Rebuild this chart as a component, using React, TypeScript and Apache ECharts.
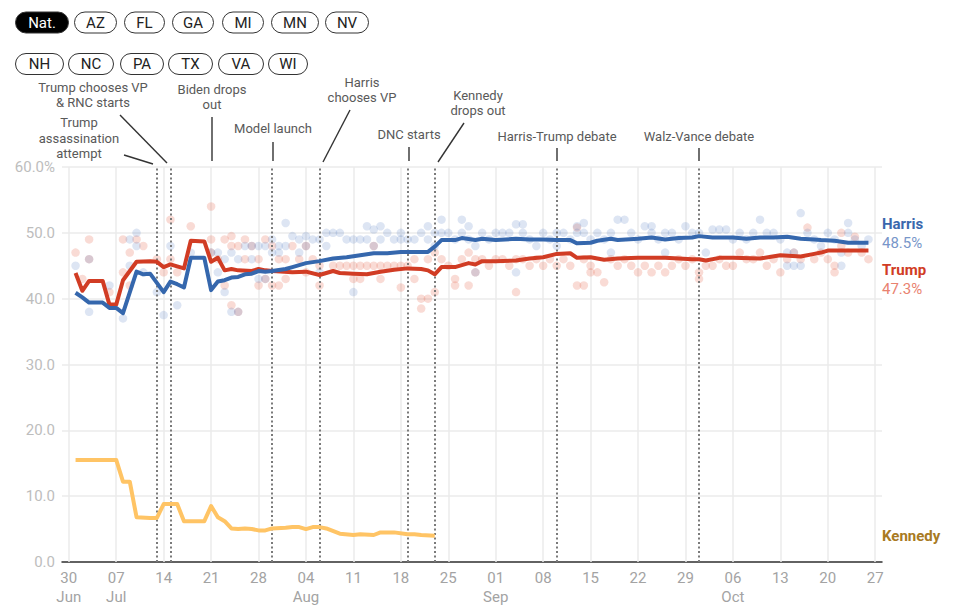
import React, { useEffect, useRef } from "react";
import * as echarts from "echarts";

// Day index 0 = 30 Jun 2024
const START_UTC = Date.UTC(2024, 5, 30);
const MONTHS = ["Jan", "Feb", "Mar", "Apr", "May", "Jun", "Jul", "Aug", "Sep", "Oct", "Nov", "Dec"];

const tickDays = [0, 7, 14, 21, 28, 35, 42, 49, 56, 63, 70, 77, 84, 91, 98, 105, 112, 119];
const yTicks = [0, 10, 20, 30, 40, 50, 60];

const stateButtonsRow1 = ["Nat.", "AZ", "FL", "GA", "MI", "MN", "NV"];
const stateButtonsRow2 = ["NH", "NC", "PA", "TX", "VA", "WI"];

// [day, value]
const harrisTrend: number[][] = [
  [1, 40.9], [2, 40.2], [3, 39.4], [5, 39.4], [6, 38.6], [7, 38.6], [8, 37.8], [10, 44.1], [11, 43.7], [12, 43.8],
  [14, 41.0], [15, 42.6], [16, 42.2], [17, 41.7], [18, 46.2], [20, 46.2], [21, 41.3], [22, 42.6], [23, 42.8], [24, 43.2],
  [25, 43.3], [26, 43.7], [27, 43.8], [28, 44.2], [29, 44.1], [30, 44.2], [32, 44.5], [33, 44.8], [35, 45.4], [37, 45.7],
  [39, 46.1], [41, 46.3], [43, 46.6], [45, 46.9], [47, 46.9], [49, 47.1], [51, 47.1], [53, 47.1], [54, 47.9], [55, 48.9],
  [57, 48.9], [58, 49.2], [60, 48.9], [61, 49.1], [63, 48.9], [66, 49.1], [68, 49.0], [70, 49.0], [72, 48.9], [74, 48.9],
  [75, 48.4], [77, 48.5], [78, 48.8], [80, 49.1], [81, 48.9], [84, 49.1], [86, 49.3], [88, 49.0], [90, 49.2], [92, 49.3],
  [93, 49.5], [95, 49.3], [98, 49.3], [100, 49.1], [102, 49.3], [104, 49.3], [106, 49.4], [108, 49.1], [110, 49.0],
  [111, 48.9], [113, 48.8], [115, 48.5], [118, 48.5],
];

const trumpTrend: number[][] = [
  [1, 43.9], [2, 41.2], [3, 42.7], [5, 42.7], [6, 39.1], [7, 39.1], [8, 42.8], [10, 45.6], [12, 45.7], [13, 45.6],
  [14, 44.8], [15, 45.2], [16, 44.9], [17, 44.6], [18, 48.8], [20, 48.7], [21, 45.6], [22, 46.2], [23, 44.3], [24, 44.5],
  [25, 44.3], [27, 44.2], [28, 44.5], [29, 44.3], [30, 44.2], [33, 44.0], [35, 44.1], [37, 43.6], [39, 44.2], [40, 43.9],
  [42, 43.8], [44, 43.7], [46, 44.1], [48, 44.4], [50, 44.6], [52, 44.5], [53, 44.3], [54, 43.7], [55, 44.8], [57, 44.8],
  [59, 45.4], [60, 45.2], [61, 45.7], [63, 45.7], [66, 45.8], [68, 46.1], [70, 46.3], [72, 46.8], [74, 46.9], [75, 46.2],
  [77, 46.3], [79, 45.9], [81, 46.1], [84, 46.2], [88, 46.2], [90, 46.1], [92, 46.0], [93, 46.0], [94, 45.8], [96, 46.2],
  [98, 46.2], [102, 46.1], [105, 46.6], [108, 46.4], [110, 46.8], [111, 47.0], [112, 47.3], [116, 47.3], [118, 47.3],
];

const kennedyTrend: number[][] = [
  [1, 15.5], [7, 15.5], [8, 12.2], [9, 12.2], [10, 6.8], [12, 6.7], [13, 6.7], [14, 8.8], [16, 8.8], [17, 6.2],
  [20, 6.2], [21, 8.5], [22, 6.8], [23, 6.2], [24, 5.1], [25, 5.0], [26, 5.1], [27, 5.0], [28, 4.8], [29, 4.8],
  [30, 5.1], [32, 5.2], [33, 5.3], [34, 5.3], [35, 5.0], [36, 5.3], [37, 5.3], [38, 5.1], [40, 4.3], [42, 4.1],
  [43, 4.2], [45, 4.1], [46, 4.5], [48, 4.5], [50, 4.2], [51, 4.2], [52, 4.1], [54, 4.0],
];

const harrisPolls: number[][] = [
  [1, 45], [3, 46], [3, 38], [6, 42], [8, 37], [9, 49], [9, 45], [10, 50], [10, 48], [11, 44], [13, 41], [14, 37.5],
  [15, 48], [16, 39], [18, 47], [21, 47], [22, 47], [22, 44], [23, 46], [23, 41], [24, 47], [24, 38], [25, 38], [25, 46],
  [26, 48], [27, 48], [27, 46], [28, 48], [28, 43], [29, 48], [29, 43], [30, 49], [30, 47], [31, 47], [31, 48], [32, 51.5],
  [32, 48], [33, 49.5], [34, 49], [34, 47], [35, 49.5], [35, 48], [36, 49], [37, 49], [37, 44], [38, 50], [38, 48],
  [39, 50], [40, 50], [41, 49], [42, 49], [42, 41], [43, 49], [44, 49], [44, 51], [45, 50.5], [45, 48], [46, 51], [46, 49],
  [47, 50], [48, 49], [49, 49], [49, 50], [50, 49], [51, 49], [52, 50], [53, 51], [53, 49], [54, 50], [54, 48], [55, 52],
  [55, 50], [56, 50], [57, 49], [58, 52], [58, 50], [59, 51], [59, 49], [60, 44], [60, 48], [61, 50], [62, 49], [63, 50],
  [64, 50], [65, 50], [66, 51.3], [66, 44], [67, 51.3], [67, 50], [68, 49], [69, 48], [70, 50], [71, 49], [72, 50], [72, 48],
  [73, 50], [74, 49], [75, 51], [75, 50], [76, 51.5], [76, 50], [77, 49], [78, 50], [79, 49], [80, 47], [80, 50], [81, 52],
  [82, 52], [83, 50], [84, 49], [85, 51], [86, 51], [86, 50], [87, 49], [88, 47], [88, 50], [89, 50], [90, 49], [91, 51],
  [92, 50], [93, 50], [94, 47], [95, 50.5], [96, 50.5], [97, 50.5], [98, 49], [99, 50], [100, 49], [101, 50], [102, 52],
  [103, 50], [104, 50], [105, 49], [106, 45], [106, 47], [107, 45], [107, 47], [108, 53], [108, 45], [109, 50], [110, 49],
  [111, 48], [112, 50], [113, 49], [114, 47], [114, 45], [115, 51.5], [115, 50], [116, 49], [117, 48], [118, 49],
];

const trumpPolls: number[][] = [
  [1, 47], [2, 43], [3, 49], [3, 46], [6, 41], [8, 49], [8, 44], [9, 47], [9, 42], [10, 49], [11, 48], [13, 46], [14, 44],
  [15, 52], [15, 46], [16, 44], [18, 51], [21, 54], [21, 49], [21, 47], [22, 46], [23, 49], [23, 42], [24, 49.5], [24, 48],
  [24, 39], [25, 48], [25, 38], [26, 49], [26, 46], [27, 48], [28, 46], [28, 42], [29, 49], [29, 43], [30, 48], [30, 42],
  [31, 46], [31, 42], [32, 43], [32, 46], [33, 48], [34, 46], [35, 48], [35, 44], [36, 46], [37, 45], [37, 42],
  [39, 45], [40, 45], [41, 45], [42, 45], [42, 43], [43, 45], [43, 43], [44, 45], [45, 48], [45, 45], [46, 43], [46, 45],
  [47, 45], [48, 45], [49, 41.7], [49, 45], [50, 45], [51, 43], [51, 46], [52, 40], [52, 38.5], [53, 40], [53, 46], [54, 41],
  [54, 47], [55, 46], [56, 45], [57, 43], [57, 42], [58, 46], [59, 42], [59, 47], [60, 44], [60, 46], [61, 46], [62, 45],
  [63, 46], [64, 46], [65, 45], [66, 41], [66, 46], [67, 46], [68, 45], [69, 46], [70, 45], [71, 46], [72, 45], [73, 46],
  [74, 45], [75, 42], [75, 50.8], [76, 42], [76, 46], [77, 45], [77, 44], [78, 44], [79, 42.5], [80, 46], [81, 45], [82, 46],
  [83, 45], [84, 44], [85, 45], [86, 44], [87, 45], [88, 44], [89, 45], [90, 46], [91, 45], [92, 46], [93, 44], [93, 43],
  [94, 45], [95, 45], [96, 46], [97, 45], [98, 45], [99, 47], [100, 46], [101, 46], [102, 47], [103, 45], [104, 46], [105, 44],
  [106, 46], [107, 47], [108, 46], [109, 50.8], [110, 46], [111, 47], [112, 46], [113, 44], [113, 45], [114, 50], [114, 48],
  [115, 47], [116, 49.4], [117, 47], [118, 46],
];

// Event days with dotted markers (Biden drops out, day 21, sits on a gridline with no marker)
const eventDays = [13, 15, 30, 37, 50, 54, 72, 93];
const eventLabels = [
  "Trump\nassassination\nattempt",
  "Trump chooses VP\n& RNC starts",
  "Biden drops\nout",
  "Model launch",
  "Harris\nchooses VP",
  "DNC starts",
  "Kennedy\ndrops out",
  "Harris-Trump debate",
  "Walz-Vance debate",
];

// layout for annotations: text center x, text top y, leader line
const annotationLayout = [
  { cx: 79, top: 115, l: [124, 155, 153, 164] },
  { cx: 93, top: 79.5, l: [120, 115, 167, 163] },
  { cx: 212, top: 81.5, l: [212, 117, 212, 161] },
  { cx: 273, top: 120.5, l: [273, 142, 273, 161] },
  { cx: 362, top: 74.5, l: [350, 110, 323, 162] },
  { cx: 409, top: 126.5, l: [409, 147, 409, 161] },
  { cx: 478, top: 87.5, l: [464, 123, 438, 162] },
  { cx: 557, top: 128.5, l: [557, 148, 557, 161] },
  { cx: 699, top: 128.5, l: [699, 148, 699, 161] },
];

const pillLayout1 = [[15, 53], [74, 42], [124, 40], [172, 41], [222, 41], [271, 47], [325, 43]];
const pillLayout2 = [[15, 48], [68, 45], [120, 43], [168, 44], [218, 45], [268, 39]];

const FONT = "Roboto, 'Noto Sans', sans-serif";

function dayLabel(d: number): string {
  const dt = new Date(START_UTC + d * 86400000);
  const dd = String(dt.getUTCDate()).padStart(2, "0");
  if (d === 0 || dt.getUTCDate() <= 7) return dd + "\n" + MONTHS[dt.getUTCMonth()];
  return dd;
}

export default function App() {
  const ref = useRef<HTMLDivElement>(null);
  useEffect(() => {
    if (!ref.current) return;
    const chart = echarts.init(ref.current, null, { renderer: "svg" });

    const graphic: any[] = [];
    const pill = (label: string, x: number, w: number, y: number, active: boolean) => {
      graphic.push({
        type: "rect",
        shape: { x: x + 0.5, y: y + 0.5, width: w, height: 21, r: 10.5 },
        style: { fill: active ? "#000" : "#fff", stroke: "#333", lineWidth: 1 },
      });
      graphic.push({
        type: "text",
        x: x + w / 2 + 0.5,
        y: y + 11,
        style: { text: label, fill: active ? "#fff" : "#222", fontSize: 15, fontFamily: FONT, align: "center", verticalAlign: "middle" },
      });
    };
    stateButtonsRow1.forEach((s, i) => pill(s, pillLayout1[i][0], pillLayout1[i][1], 11.5, i === 0));
    stateButtonsRow2.forEach((s, i) => pill(s, pillLayout2[i][0], pillLayout2[i][1], 53, false));

    eventLabels.forEach((t, i) => {
      const a = annotationLayout[i];
      graphic.push({
        type: "text",
        x: a.cx,
        y: a.top,
        style: { text: t, fill: "#595959", fontSize: 13, lineHeight: 15.5, fontFamily: FONT, align: "center", verticalAlign: "top" },
      });
      graphic.push({
        type: "line",
        shape: { x1: a.l[0], y1: a.l[1], x2: a.l[2], y2: a.l[3] },
        style: { stroke: "#333", lineWidth: 1.4 },
      });
    });

    const endLabel = (text: string, y: number, color: string, bold: boolean) => {
      graphic.push({
        type: "text",
        x: 882,
        y,
        style: { text, fill: color, fontSize: 15, fontWeight: bold ? "bold" : "normal", fontFamily: FONT, align: "left", verticalAlign: "middle" },
      });
    };
    const hLast = harrisTrend[harrisTrend.length - 1][1];
    const tLast = trumpTrend[trumpTrend.length - 1][1];
    endLabel("Harris", 224, "#3a67ad", true);
    endLabel(hLast.toFixed(1) + "%", 243, "#7896c9", false);
    endLabel("Trump", 270, "#d13c24", true);
    endLabel(tLast.toFixed(1) + "%", 289, "#e9826f", false);
    endLabel("Kennedy", 536, "#a87a22", true);

    const option: any = {
      animation: false,
      textStyle: { fontFamily: FONT },
      grid: { left: 62, right: 78, top: 167, bottom: 49 },
      xAxis: {
        type: "value",
        min: -1,
        max: 120,
        axisLine: { show: true, onZero: true, lineStyle: { color: "#333", width: 1.5 } },
        axisTick: { show: false },
        splitLine: { show: false },
        axisLabel: {
          customValues: tickDays,
          formatter: (v: number) => dayLabel(v),
          color: "#a3a3a3",
          fontSize: 15,
          lineHeight: 19,
          margin: 6,
          fontFamily: FONT,
        },
      },
      yAxis: {
        type: "value",
        min: yTicks[0],
        max: yTicks[yTicks.length - 1],
        interval: 10,
        axisLine: { show: false },
        axisTick: { show: false },
        splitLine: { show: true, lineStyle: { color: "#ebebeb", width: 1.5 } },
        axisLabel: {
          formatter: (v: number) => (v === 60 ? "60.0%" : v.toFixed(1)),
          color: "#bdbdbd",
          fontSize: 15,
          margin: 7,
          fontFamily: FONT,
        },
      },
      series: [
        {
          name: "TrumpPolls",
          type: "scatter",
          data: trumpPolls,
          symbolSize: 8.5,
          itemStyle: { color: "rgba(226,92,66,0.28)" },
          z: 2,
          silent: true,
          markLine: {
            silent: true,
            z: 1,
            symbol: ["none", "none"],
            label: { show: false },
            lineStyle: { color: "#ebebeb", width: 1.5, type: "solid" },
            data: tickDays.map((d) => ({ xAxis: d })),
          },
        },
        {
          name: "HarrisPolls",
          type: "scatter",
          data: harrisPolls,
          symbolSize: 8.5,
          itemStyle: { color: "rgba(62,110,188,0.22)" },
          z: 2,
          silent: true,
          markLine: {
            silent: true,
            z: 3,
            symbol: ["none", "none"],
            label: { show: false },
            lineStyle: { color: "#7a7a7a", width: 2, type: [2, 2.5] },
            data: eventDays.map((d) => ({ xAxis: d })),
          },
        },
        {
          name: "Kennedy",
          type: "line",
          data: kennedyTrend,
          showSymbol: false,
          symbol: "none",
          z: 4,
          lineStyle: { color: "#ffc465", width: 4, join: "round" },
        },
        {
          name: "Trump",
          type: "line",
          data: trumpTrend,
          showSymbol: false,
          symbol: "none",
          z: 4,
          lineStyle: { color: "#d13c24", width: 4, join: "round" },
        },
        {
          name: "Harris",
          type: "line",
          data: harrisTrend,
          showSymbol: false,
          symbol: "none",
          z: 4,
          lineStyle: { color: "#3567ad", width: 4, join: "round" },
        },
      ],
      graphic,
    };
    chart.setOption(option);
    return () => chart.dispose();
  }, []);
  return <div ref={ref} style={{ position: "absolute", left: 0, top: 0, width: 960, height: 611 }} />;
}
